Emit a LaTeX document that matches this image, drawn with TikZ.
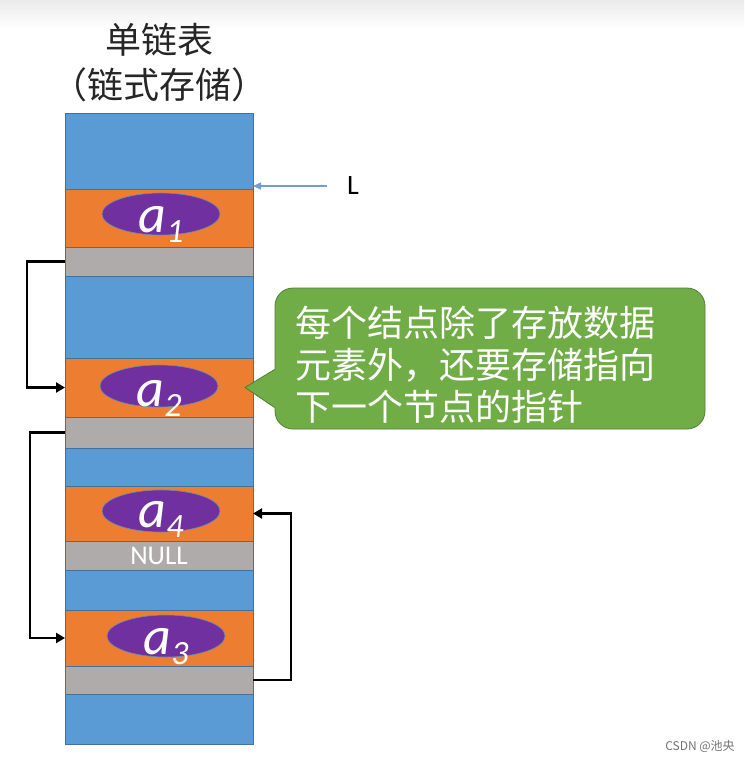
\documentclass[tikz,border=0pt]{standalone}
\usepackage{fontspec}
\usepackage{xcolor}
\usepackage{tikz}
\usetikzlibrary{positioning,shapes.geometric,arrows.meta}
\newfontfamily\cjk{Noto Sans CJK SC}
\newfontfamily\labelfont{Carlito}
\definecolor{CellBlue}{HTML}{5B9BD5}
\definecolor{CellEdge}{HTML}{41719C}
\definecolor{DataOrange}{HTML}{ED7D31}
\definecolor{PtrGray}{HTML}{AFABAB}
\definecolor{NodePurple}{HTML}{7030A0}
\definecolor{NoteGreen}{HTML}{70AD47}
\definecolor{NoteEdge}{HTML}{507E32}
\definecolor{TitleGray}{HTML}{262626}
\definecolor{HeadBlue}{HTML}{6F9FD0}

\tikzset{
  cell/.style={rectangle, draw=CellEdge, line width=0.6pt, minimum width=188pt,
               inner sep=0pt, outer sep=0pt},
  freecell/.style={cell, fill=CellBlue},
  datacell/.style={cell, fill=DataOrange},
  ptrcell/.style={cell, fill=PtrGray, text=white,
                  font=\labelfont\fontsize{27}{27}\selectfont},
  elem/.style={ellipse, fill=NodePurple, draw=CellEdge!80, line width=0.6pt,
               minimum width=118pt, minimum height=42pt, inner sep=0pt},
  elemlabel/.style={anchor=base, text=white, inner sep=0pt,
                    font=\labelfont\itshape\fontsize{54}{54}\selectfont},
  link/.style={draw=black, line width=2.2pt, -{Triangle[length=9pt,width=10pt]}},
}
\newcommand{\elemtext}[1]{a\raisebox{-10pt}{\fontsize{34}{34}\selectfont #1}}

\begin{document}
\begin{tikzpicture}[x=1pt,y=-1pt]
  \useasboundingbox (0,0) rectangle (744,760);
  \fill[top color=black!8, bottom color=white] (0,0) rectangle (744,28);

  % title
  \node[align=center, text=TitleGray, font=\cjk\fontsize{36}{45}\selectfont]
    (title) at (159,63) {单链表\\（链式存储）};

  % memory column
  \node[freecell, minimum height=76pt, anchor=north west] (b0) at (65,113) {};
  \node[datacell, minimum height=58pt, below=0pt of b0] (o1) {};
  \node[ptrcell,  minimum height=29pt, below=0pt of o1] (g1) {};
  \node[freecell, minimum height=82pt, below=0pt of g1] (b1) {};
  \node[datacell, minimum height=59pt, below=0pt of b1] (o2) {};
  \node[ptrcell,  minimum height=31pt, below=0pt of o2] (g2) {};
  \node[freecell, minimum height=38pt, below=0pt of g2] (b2) {};
  \node[datacell, minimum height=55pt, below=0pt of b2] (o4) {};
  \node[ptrcell,  minimum height=29pt, below=0pt of o4] (g4) {NULL};
  \node[freecell, minimum height=40pt, below=0pt of g4] (b3) {};
  \node[datacell, minimum height=56pt, below=0pt of b3] (o3) {};
  \node[ptrcell,  minimum height=28pt, below=0pt of o3] (g3) {};
  \node[freecell, minimum height=50pt, below=0pt of g3] (b4) {};

  % data elements
  \node[elem, xshift=2pt, yshift=4pt] (e1) at (o1.center) {};
  \node[elem, yshift=1.5pt] (e2) at (o2.center) {};
  \node[elem, xshift=2pt, yshift=2.5pt] (e4) at (o4.center) {};
  \node[elem, xshift=7pt, yshift=2pt] (e3) at (o3.center) {};
  \node[elemlabel, yshift=-18pt] (lab1) at (e1.center) {\elemtext{1}};
  \node[elemlabel, yshift=-20pt] (lab2) at (e2.center) {\elemtext{2}};
  \node[elemlabel, yshift=-16pt] (lab4) at (e4.center) {\elemtext{4}};
  \node[elemlabel, yshift=-18pt] (lab3) at (e3.center) {\elemtext{3}};

  % head pointer
  \node[font=\labelfont\fontsize{28}{28}\selectfont] (L) at (353,186) {L};
  \draw[HeadBlue, line width=1.2pt, -{Triangle[length=8pt,width=7pt]}]
    ([xshift=-17pt]L.west) -- (L.west -| b0.east);

  % next pointers
  \draw[link] (g1.west) -- ++(-38,0) |- (o2.west);
  \draw[link] (g2.west) -- ++(-35,0) |- (o3.west);
  \draw[link] (g3.east) -- ++(38,0) |- (o4.east);

  % note
  \node[fill=NoteGreen, draw=NoteEdge, line width=0.8pt, rounded corners=18pt,
        minimum width=430pt, minimum height=141pt] (note) at (490,358.5) {};
  \node[text width=390pt, align=left, text=white, inner sep=0pt,
        font=\cjk\fontsize{36}{42}\selectfont, yshift=-6pt]
    (notetext) at (note.center) {每个结点除了存放数据\\元素外，还要存储指向\\下一个节点的指针};
  \coordinate (tip) at ([xshift=-8pt]o2.east);
  \fill[NoteGreen] ([yshift=-11pt]note.west) -- (tip) -- ([yshift=-49pt]note.west)
    -- ([xshift=2pt,yshift=-49pt]note.west) -- ([xshift=2pt,yshift=-11pt]note.west) -- cycle;
  \draw[NoteEdge, line width=0.8pt, line join=miter]
    ([yshift=-11pt]note.west) -- (tip) -- ([yshift=-49pt]note.west);

  % watermark
  \node[text=black!55, font=\cjk\fontsize{12}{12}\selectfont] (mark) at (700,746) {CSDN @池央};
\end{tikzpicture}
\end{document}
